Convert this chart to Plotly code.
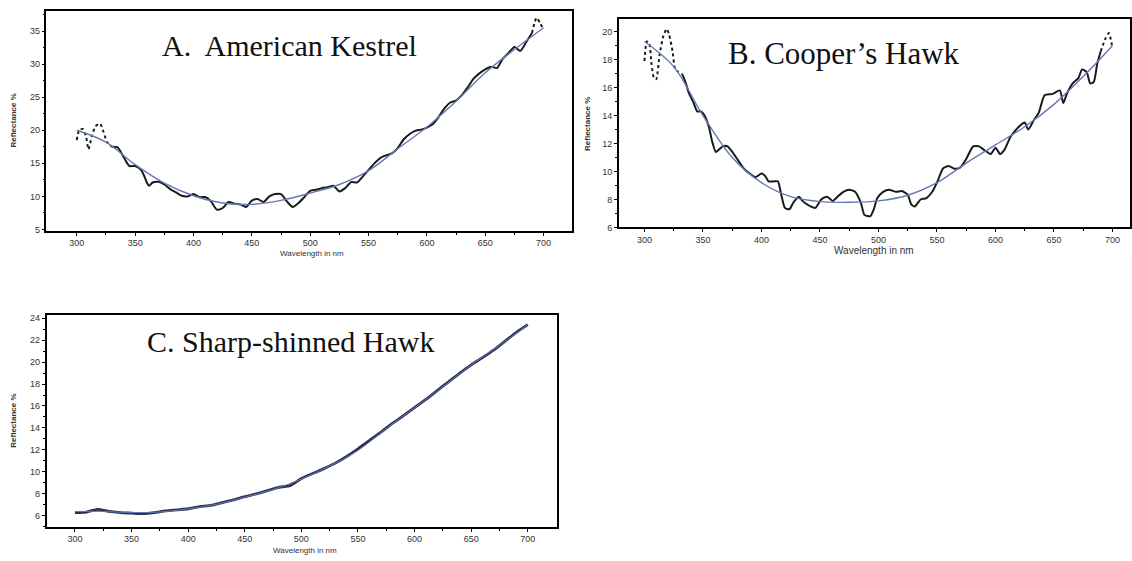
import plotly.graph_objects as go

W, H = 1132, 561

# ---------------- Panel A: American Kestrel ----------------
A_wl = [300,302,305,308,310,313,316,320,323,326,330,335,340,345,350,355,358,360,362,365,
        370,375,380,385,390,395,400,405,410,415,420,425,430,435,440,445,450,455,460,465,
        470,475,480,485,490,495,500,505,510,515,520,525,530,535,540,545,550,555,560,565,
        570,575,580,585,590,595,600,605,610,615,620,625,630,635,640,645,650,655,660,665,
        670,675,680,685,690,694,697,700]
A_raw = [18.5,20.0,20.2,19.0,17.1,19.2,20.6,21.0,19.7,18.2,17.5,17.4,16.0,14.6,14.6,14.0,13.0,12.1,11.6,12.1,
         12.2,11.8,11.1,10.6,10.1,10.0,10.35,9.9,9.9,9.25,8.0,8.25,9.15,8.9,8.8,8.4,9.35,9.6,9.15,10.0,
         10.35,10.35,9.25,8.4,9.0,9.9,10.85,11.0,11.25,11.4,11.6,10.75,11.25,12.15,12.1,13.0,14.0,15.0,15.8,16.2,
         16.5,17.3,18.6,19.4,19.9,20.1,20.4,20.9,22.0,23.3,24.2,24.5,25.3,26.5,27.8,28.6,29.2,29.6,29.4,30.8,
         31.7,32.6,32.0,33.3,34.7,37.0,36.2,35.2]
A_fit_wl = [300,325,350,375,400,425,450,475,500,525,550,575,600,625,650,675,700]
A_fit = [20.0,18.2,14.8,12.0,10.1,9.0,8.8,9.4,10.5,11.8,13.9,17.2,20.5,24.4,28.7,32.2,35.5]

# ---------------- Panel B: Cooper's Hawk ----------------
B_wl = [300,302,304,306,308,310,313,316,319,321,324,326,329,332,335,338,342,345,348,351,
        355,358,361,364,367,371,375,380,385,390,395,400,403,406,411,414,417,420,424,427,
        432,435,440,446,451,456,461,465,470,475,480,485,488,493,496,499,504,509,515,520,
        525,528,531,536,541,546,551,555,560,565,570,575,581,586,591,596,600,604,608,613,
        620,625,628,633,637,642,649,655,658,661,666,671,674,678,681,684,687,690,694,697,700]
B_raw = [17.9,19.3,19.2,17.7,16.7,16.6,18.4,19.65,20.2,19.8,18.6,17.4,17.1,17.0,16.4,15.6,14.9,14.3,14.3,14.05,
         13.2,12.1,11.4,11.6,11.8,11.8,11.4,10.8,10.2,9.85,9.6,9.85,9.7,9.3,9.3,9.3,8.3,7.4,7.3,7.75,
         8.2,7.9,7.6,7.4,8.0,8.2,7.9,8.2,8.55,8.7,8.55,7.75,6.9,6.8,7.3,8.1,8.55,8.7,8.55,8.6,
         8.35,7.65,7.5,8.0,8.1,8.55,9.4,10.2,10.4,10.2,10.3,10.9,11.8,11.8,11.5,11.25,11.7,11.25,11.6,12.5,
         13.2,13.5,13.0,13.7,14.2,15.45,15.55,15.8,14.9,15.55,16.3,16.7,17.3,17.1,16.3,16.4,17.7,18.6,19.5,19.9,18.8]
B_fit_wl = [300,325,350,375,400,425,450,475,500,525,550,575,600,625,650,675,700]
B_fit = [19.3,17.5,14.0,11.0,9.2,8.2,7.85,7.8,7.9,8.3,9.2,10.6,11.9,13.2,14.8,16.8,19.0]

# ---------------- Panel C: Sharp-shinned Hawk ----------------
C_wl = [300,310,320,330,340,350,360,370,380,390,400,410,420,430,440,450,460,470,480,490,
        500,510,520,530,540,550,560,570,580,590,600,610,620,630,640,650,660,670,680,690,700]
C_raw = [6.3,6.35,6.6,6.4,6.3,6.25,6.2,6.3,6.45,6.55,6.65,6.85,6.95,7.2,7.45,7.75,8.0,8.3,8.6,8.75,
         9.4,9.85,10.3,10.8,11.4,12.1,12.85,13.6,14.4,15.1,15.85,16.6,17.4,18.2,19.0,19.75,20.4,21.1,21.9,22.7,23.4]
C_fit_wl = [300,325,350,375,400,425,450,475,500,525,550,575,600,625,650,675,700]
C_fit = [6.4,6.4,6.3,6.35,6.65,7.05,7.7,8.4,9.35,10.55,11.95,13.95,15.85,17.75,19.75,21.5,23.4]

titles = ["A.\u00a0 American Kestrel", "B. Cooper\u2019s Hawk", "C. Sharp-shinned Hawk"]
x_title = "Wavelength in nm"
y_title = "Reflectance %"
x_ticks = [300, 350, 400, 450, 500, 550, 600, 650, 700]

RAW_COLOR = "#1a1a1a"
FIT_COLOR = "#6478b4"

fig = go.Figure()

def add_panel(wl, raw, fwl, fit, xa, ya, dotted_ends=True):
    if dotted_ends:
        lo = [i for i, w in enumerate(wl) if w <= 330]
        mid = [i for i, w in enumerate(wl) if 330 <= w <= 690]
        hi = [i for i, w in enumerate(wl) if w >= 690]
        for idx, dash, width in ((lo, "dot", 2), (mid, "solid", 2), (hi, "dot", 2)):
            fig.add_trace(go.Scatter(x=[wl[i] for i in idx], y=[raw[i] for i in idx],
                                     mode="lines", line=dict(color=RAW_COLOR, width=width, dash=dash,
                                                             shape="spline", smoothing=0.6),
                                     xaxis=xa, yaxis=ya, showlegend=False, hoverinfo="skip"))
    else:
        fig.add_trace(go.Scatter(x=wl, y=raw, mode="lines",
                                 line=dict(color="#2d3050", width=2.8, shape="spline", smoothing=0.6),
                                 xaxis=xa, yaxis=ya, showlegend=False))
    fig.add_trace(go.Scatter(x=fwl, y=fit, mode="lines",
                             line=dict(color=FIT_COLOR, width=1.4 if dotted_ends else 1.0,
                                       shape="spline", smoothing=1.0),
                             xaxis=xa, yaxis=ya, showlegend=False))

add_panel(A_wl, A_raw, A_fit_wl, A_fit, "x", "y")
add_panel(B_wl, B_raw, B_fit_wl, B_fit, "x2", "y2")
add_panel(C_wl, C_raw, C_fit_wl, C_fit, "x3", "y3", dotted_ends=False)

def px2fx(px):
    return px / W

def px2fy(py):
    return 1 - py / H

tickfont = dict(family="Liberation Sans, Arial", size=9, color="#333333")
common_ax = dict(showline=True, linecolor="black", linewidth=1.5, mirror=True,
                 showgrid=False, zeroline=False, ticks="outside", ticklen=3,
                 tickwidth=1, tickcolor="black", tickfont=tickfont)

panels = {
    # name: (left, right, top, bottom px, xrange, yrange, ydtick, yminor)
    "1": (46.5, 572.7, 9.3, 231.7, [274, 724.5], [4.8, 38.0], 5, 2.5),
    "2": (619.3, 1131.0, 17.3, 228.3, [278, 715], [6.0, 20.9], 2, 1),
    "3": (46.7, 557.7, 317.3, 531.5, [275, 726], [5.0, 24.25], 2, 1),
}

layout = dict(width=W, height=H, margin=dict(l=0, r=0, t=0, b=0),
              paper_bgcolor="white", plot_bgcolor="white", showlegend=False)

for k, (l, r, t, b, xr, yr, ydt, ymn) in panels.items():
    xs = "xaxis" if k == "1" else f"xaxis{k}"
    ys = "yaxis" if k == "1" else f"yaxis{k}"
    xa = "x" if k == "1" else f"x{k}"
    ya = "y" if k == "1" else f"y{k}"
    layout[xs] = dict(common_ax, domain=[px2fx(l), px2fx(r)], range=xr, anchor=ya,
                      tickvals=x_ticks, minor=dict(tickvals=[325, 375, 425, 475, 525, 575, 625, 675],
                                                   ticklen=2, tickcolor="black", ticks="outside"))
    layout[ys] = dict(common_ax, domain=[px2fy(b), px2fy(t)], range=yr, anchor=xa,
                      dtick=ydt, tick0=0,
                      minor=dict(dtick=ymn, tick0=0, ticklen=2, tickcolor="black", ticks="outside"))

fig.update_layout(**layout)

ann = []
title_pos = [(160, 44, 30), (727, 52, 31), (145, 344, 30)]
for (tx, ty, fs), txt in zip(title_pos, titles):
    ann.append(dict(text=txt, x=px2fx(tx), y=px2fy(ty), xref="paper", yref="paper",
                    xanchor="left", yanchor="middle", showarrow=False,
                    font=dict(family="Liberation Serif, Times New Roman", size=fs, color="#111111")))

# axis titles
ylab_pos = [(14, 120), (588, 123), (14, 424)]
for (tx, ty) in ylab_pos:
    ann.append(dict(text="<b>" + y_title + "</b>", x=px2fx(tx), y=px2fy(ty), xref="paper", yref="paper",
                    xanchor="center", yanchor="middle", showarrow=False, textangle=-90,
                    font=dict(family="Liberation Sans, Arial", size=8, color="#333333")))
xlab_pos = [(312, 255, 8), (875, 252, 10), (305, 555, 8)]
for (tx, ty, fs) in xlab_pos:
    ann.append(dict(text=x_title, x=px2fx(tx), y=px2fy(ty), xref="paper", yref="paper",
                    xanchor="center", yanchor="middle", showarrow=False,
                    font=dict(family="Liberation Sans, Arial", size=fs, color="#333333")))

fig.update_layout(annotations=ann)
fig.write_html("out.html")
